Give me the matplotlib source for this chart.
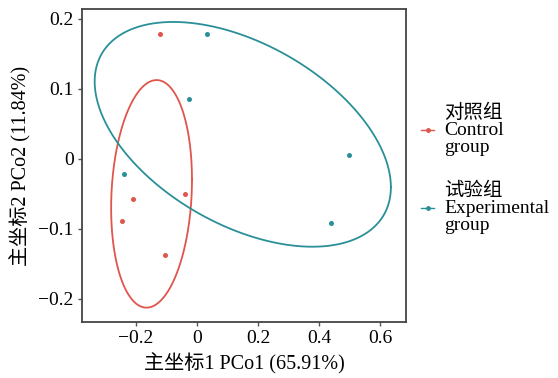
import numpy as np
import matplotlib
matplotlib.use("Agg")
from matplotlib import pyplot as plt
from matplotlib.lines import Line2D

plt.rcParams['font.family'] = ['Liberation Serif', 'Noto Sans CJK SC', 'DejaVu Sans']
plt.rcParams['axes.unicode_minus'] = True

# PCoA scores
control_x = [-0.121, -0.210, -0.247, -0.040, -0.105]
control_y = [0.179, -0.057, -0.089, -0.050, -0.137]
exp_x = [0.032, -0.027, -0.240, 0.499, 0.439]
exp_y = [0.179, 0.086, -0.022, 0.006, -0.092]

# confidence ellipses: centre and covariance-like shape (data units)
control_centre = [-0.149, -0.050]
control_shape = [[0.01756, 0.00268], [0.00268, 0.02641]]
exp_centre = [0.150, 0.035]
exp_shape = [[0.2357, -0.0366], [-0.0366, 0.02576]]

red = "#E0554C"
teal = "#2A9098"

labels = ["对照组\nControl\ngroup", "试验组\nExperimental\ngroup"]
xticks = [-0.2, 0, 0.2, 0.4, 0.6]
yticks = [-0.2, -0.1, 0, 0.1, 0.2]


def ellipse_path(centre, shape, n=300):
    t = np.linspace(0, 2 * np.pi, n)
    L = np.linalg.cholesky(np.array(shape))
    pts = L @ np.vstack([np.cos(t), np.sin(t)])
    return centre[0] + pts[0], centre[1] + pts[1]


fig = plt.figure(figsize=(5.58, 3.78), dpi=100)
ax = fig.add_axes([82 / 558, 1 - 322 / 378, 324 / 558, 313 / 378])

ex, ey = ellipse_path(control_centre, control_shape)
ax.plot(ex, ey, color=red, lw=1.3)
ex, ey = ellipse_path(exp_centre, exp_shape)
ax.plot(ex, ey, color=teal, lw=1.3)

ax.scatter(control_x, control_y, s=13, color=red, zorder=3, linewidths=0)
ax.scatter(exp_x, exp_y, s=13, color=teal, zorder=3, linewidths=0)

ax.set_xlim(-0.377, 0.685)
ax.set_ylim(-0.233, 0.214)
ax.set_xticks(xticks)
ax.set_xticklabels(["−0.2", "0", "0.2", "0.4", "0.6"])
ax.set_yticks(yticks)
ax.set_yticklabels(["−0.2", "−0.1", "0", "0.1", "0.2"])
ax.tick_params(length=3, width=1, color="#555555", labelsize=14, pad=3,
               labelcolor="black")
for sp in ax.spines.values():
    sp.set_color("#444444")
    sp.set_linewidth(1.3)

ax.set_xlabel("主坐标1 PCo1 (65.91%)", fontsize=14.5, labelpad=4)
ax.set_ylabel("主坐标2 PCo2 (11.84%)", fontsize=14.5, labelpad=5)

handles = [Line2D([0], [0], color=red, lw=1, marker="o", markersize=2.5),
           Line2D([0], [0], color=teal, lw=1, marker="o", markersize=2.5)]
leg = fig.legend(handles, labels, loc="center left", bbox_to_anchor=(411 / 558, 1 - 169 / 378),
                 frameon=False, fontsize=14, handlelength=0.7, handletextpad=0.5,
                 labelspacing=1.35, borderpad=0)
for t in leg.get_texts():
    t.set_linespacing(1.0)

fig.savefig("out.png", dpi=100)
